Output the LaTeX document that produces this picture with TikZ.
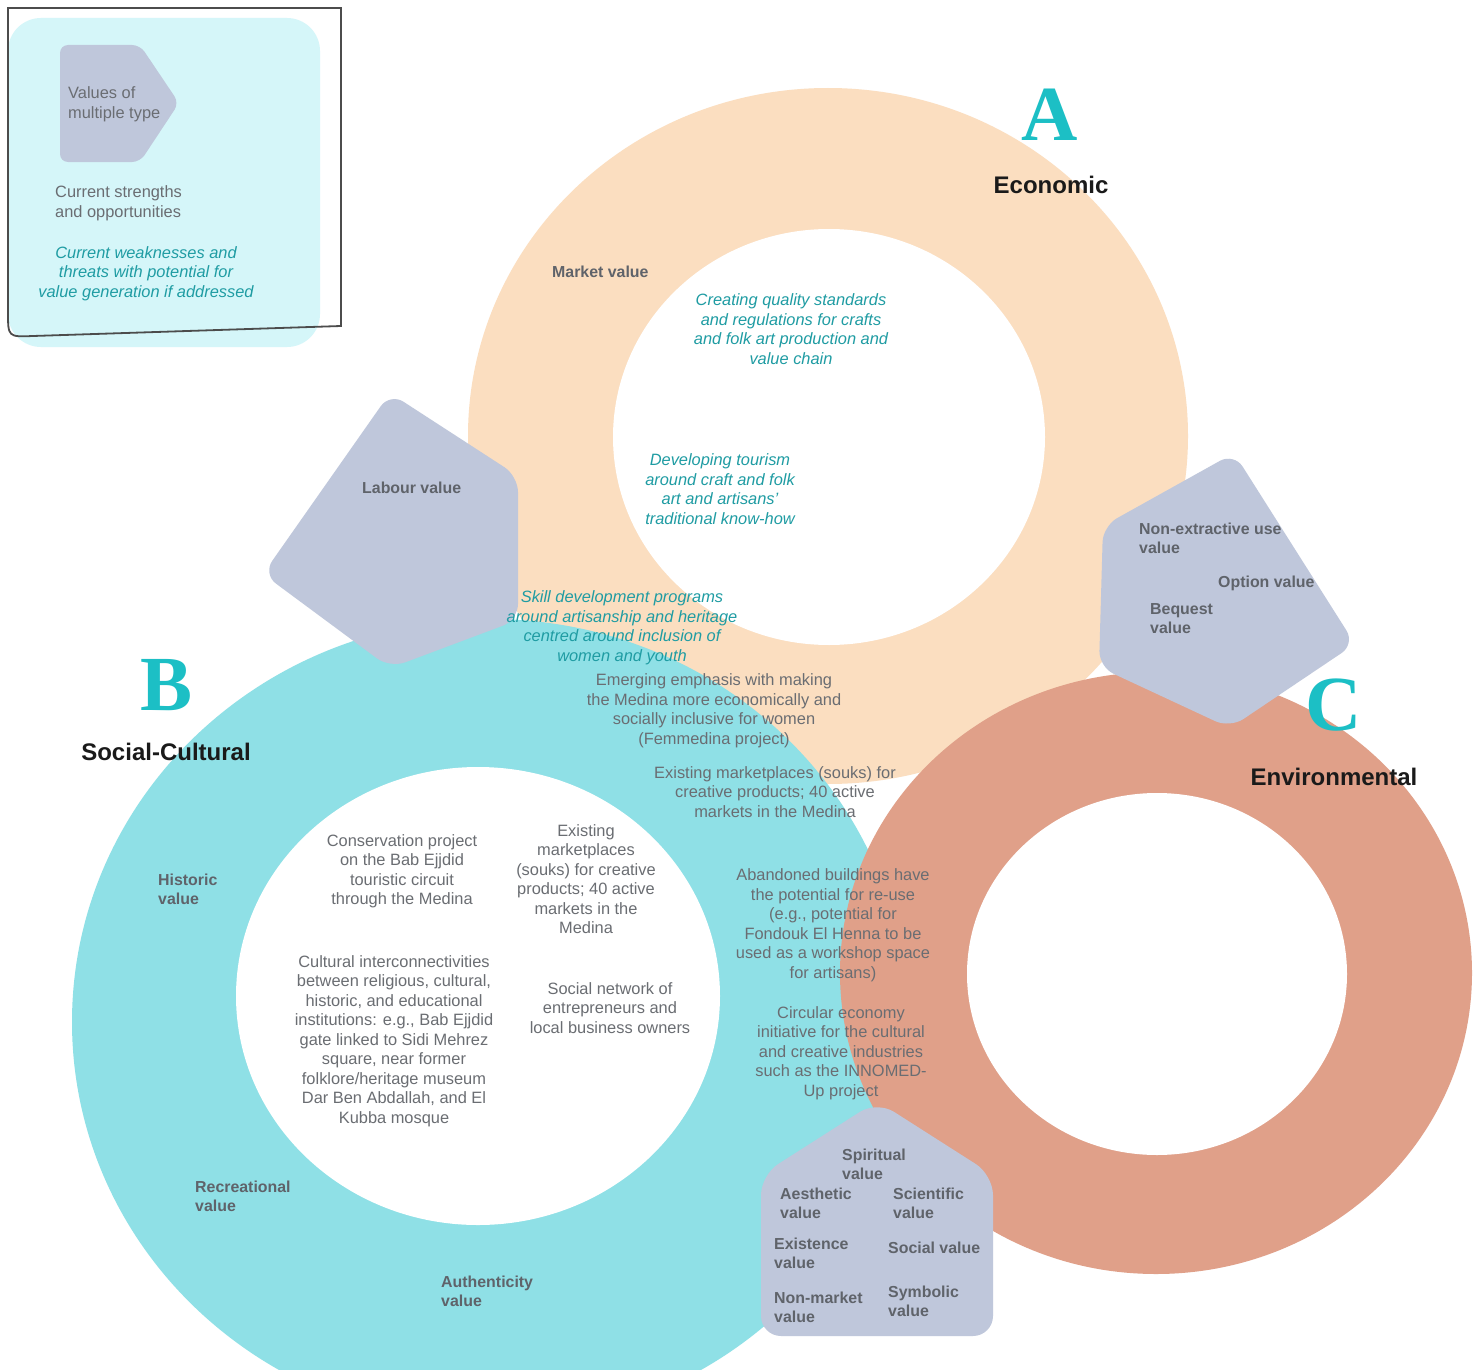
\documentclass[tikz,border=0pt]{standalone}
\usepackage{fontspec}
\setmainfont{Liberation Sans}
\newfontfamily\lettfont{Liberation Serif}
\definecolor{peachcol}{HTML}{FBDEC0}
\definecolor{cyancol}{HTML}{8FE0E6}
\definecolor{salmoncol}{HTML}{E0A089}
\definecolor{pentcol}{HTML}{BFC7DB}
\definecolor{legbg}{HTML}{D5F6F9}
\definecolor{txtgray}{HTML}{6A6D72}
\definecolor{valgray}{HTML}{5F636A}
\definecolor{tealtxt}{HTML}{1F9CA3}
\definecolor{lettcol}{HTML}{1CBFC5}
\definecolor{titlecol}{HTML}{1A1A1A}
\tikzset{
  txt/.style={font=\fontsize{16.4}{19.5}\selectfont, text=txtgray, align=center, inner sep=0pt},
  val/.style={font=\fontsize{15.9}{19.3}\selectfont\bfseries, text=valgray, align=left, anchor=west, inner sep=0pt},
  weak/.style={font=\fontsize{16.4}{19.5}\selectfont\itshape, text=tealtxt, align=center, inner sep=0pt},
  bigletter/.style={font=\lettfont\bfseries\fontsize{78}{78}\selectfont, text=lettcol, inner sep=0pt},
  ringtitle/.style={font=\fontsize{24}{28}\selectfont\bfseries, text=titlecol, inner sep=0pt},
  pent/.style={fill=pentcol, rounded corners=16pt},
}
\begin{document}
\begin{tikzpicture}[x=1pt,y=-1pt]
\useasboundingbox (0,0) rectangle (1483,1370);
\fill[white] (0,0) rectangle (1483,1370);
% rings
\fill[peachcol] (828,436) ellipse [x radius=360pt, y radius=348pt];
\fill[white] (829,437) ellipse [x radius=216pt, y radius=208pt];
\fill[cyancol] (490,1022) ellipse [x radius=418pt, y radius=403pt];
\fill[white] (478,996) ellipse [x radius=242pt, y radius=229pt];
\fill[salmoncol] (1156,973) ellipse [x radius=316pt, y radius=301pt];
\fill[white] (1157,974) ellipse [x radius=190pt, y radius=181pt];
% pentagons
\fill[pent] (390,393) -- (518,476) -- (518,620) -- (390,668) -- (263,574) -- cycle;
\fill[pent] (1234,453) -- (1355,644) -- (1230,728) -- (1099,667) -- (1103,526) -- cycle;
\fill[pent, rounded corners=20pt] (877,1101) -- (993,1175) -- (993,1336) -- (761,1336) -- (761,1175) -- cycle;
% legend
\fill[legbg, rounded corners=33pt] (8,18) rectangle (320,347);
\draw[line width=1.8pt, draw=black!70] (8,8) -- (8,312) .. controls (8,337) .. (33,336) -- (341,326) -- (341,8) -- cycle;
\fill[pentcol, rounded corners=8pt] (60,45) -- (140,45) -- (179,103) -- (140,162) -- (60,162) -- cycle;
\node[txt, align=left, anchor=west] (leg1) at (68,104.5) {Values of\\multiple type};
\node[txt, align=left, anchor=west] (leg2) at (55,203.5) {Current strengths\\and opportunities};
\node[weak] (leg3) at (146,273.5) {Current weaknesses and\\threats with potential for\\value generation if addressed};
% titles
\node[bigletter] (letA) at (1050,115) {A};
\node[ringtitle] (titA) at (1051,185) {Economic};
\node[bigletter] (letB) at (167,685) {B};
\node[ringtitle] (titB) at (166,752) {Social-Cultural};
\node[bigletter] (letC) at (1334,705) {C};
\node[ringtitle] (titC) at (1334,777) {Environmental};
% A ring texts
\node[val] (mv) at (552,272) {Market value};
\node[weak] (a1) at (791,329) {Creating quality standards\\and regulations for crafts\\and folk art production and\\value chain};
\node[weak] (a2) at (720,489) {Developing tourism\\around craft and folk\\art and artisans'\\traditional know-how};
\node[weak] (a3) at (622,628) {Skill development programs\\around artisanship and heritage\\centred around inclusion of\\women and youth};
\node[txt] (a4) at (714,711) {Emerging emphasis with making\\the Medina more economically and\\socially inclusive for women\\(Femmedina project)};
\node[txt] (a5) at (775,792) {Existing marketplaces (souks) for\\creative products; 40 active\\markets in the Medina};
\node[val] (lab) at (362,488) {Labour value};
% right pentagon
\node[val] (nev) at (1139,538.5) {Non-extractive use\\value};
\node[val] (opv) at (1218,583) {Option value};
\node[val] (bqv) at (1150,618.5) {Bequest\\value};
% B ring texts
\node[val] (hiv) at (158,889.5) {Historic\\value};
\node[txt] (b1) at (402,871) {Conservation project\\on the Bab Ejjdid\\touristic circuit\\through the Medina};
\node[txt] (b2) at (586,879) {Existing\\marketplaces\\(souks) for creative\\products; 40 active\\markets in the\\Medina};
\node[txt] (b3) at (394,1041) {Cultural interconnectivities\\between religious, cultural,\\historic, and educational\\institutions: e.g., Bab Ejjdid\\gate linked to Sidi Mehrez\\square, near former\\folklore/heritage museum\\Dar Ben Abdallah, and El\\Kubba mosque};
\node[txt] (b4) at (610,1008) {Social network of\\entrepreneurs and\\local business owners};
\node[val] (rcv) at (195,1196.5) {Recreational\\value};
\node[val] (auv) at (441,1291.5) {Authenticity\\value};
% B/C overlap
\node[txt] (c1) at (833,925) {Abandoned buildings have\\the potential for re-use\\(e.g., potential for\\Fondouk El Henna to be\\used as a workshop space\\for artisans)};
\node[txt] (c2) at (841,1053) {Circular economy\\initiative for the cultural\\and creative industries\\such as the INNOMED-\\Up project};
% bottom pentagon
\node[val] (spv) at (842,1164.5) {Spiritual\\value};
\node[val] (aev) at (780,1203.5) {Aesthetic\\value};
\node[val] (scv) at (893,1203.5) {Scientific\\value};
\node[val] (exv) at (774,1253.5) {Existence\\value};
\node[val] (sov) at (888,1248) {Social value};
\node[val] (nmv) at (774,1307.5) {Non-market\\value};
\node[val] (syv) at (888,1301.5) {Symbolic\\value};
\end{tikzpicture}
\end{document}
